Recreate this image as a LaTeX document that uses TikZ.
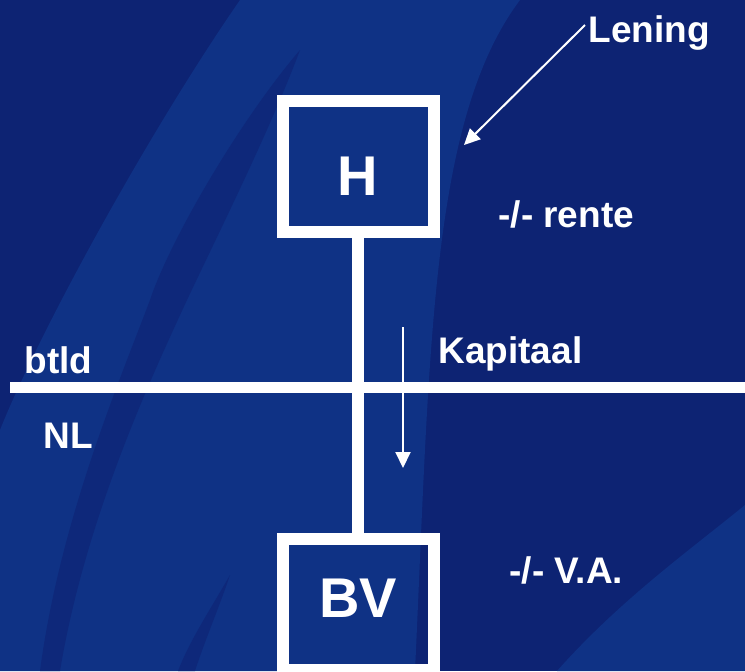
\documentclass[tikz,border=0pt]{standalone}
\usepackage{fontspec}
\setmainfont{Liberation Sans}
\usetikzlibrary{arrows.meta}
\definecolor{achtergrond}{RGB}{13,35,115}
\definecolor{zwaai}{RGB}{15,50,133}
\definecolor{streep}{RGB}{14,40,122}
\begin{document}
\begin{tikzpicture}[x=0.5pt,y=-0.5pt,
  blok/.style={draw=white, line width=6pt, minimum width=75.5pt, minimum height=65.5pt,
    inner sep=0pt, text=white, font=\fontsize{28}{30}\selectfont\bfseries},
  tekst/.style={anchor=base west, inner sep=0pt, text=white,
    font=\fontsize{18.5}{20}\selectfont\bfseries},
  pijl/.style={draw=white, line width=1pt, -{Triangle[length=8pt,width=7.5pt]}}]

\useasboundingbox (0,0) rectangle (745,671);
\clip (0,0) rectangle (745,671);

\fill[achtergrond] (0,0) rectangle (745,671);
\fill[zwaai] (240,0) .. controls (150,130) and (40,330) .. (0,430) -- (0,671) -- (415,671)
  .. controls (430,350) and (430,120) .. (520,0) -- cycle;
\fill[streep] (300,50) .. controls (240,120) and (170,240) .. (150,300)
  .. controls (120,380) and (60,520) .. (40,671) -- (60,671)
  .. controls (85,520) and (150,380) .. (187,300)
  .. controls (220,230) and (270,130) .. (300,50) -- cycle;
\fill[streep] (230,575) .. controls (210,610) and (190,640) .. (178,671) -- (195,671)
  .. controls (205,640) and (220,605) .. (230,575) -- cycle;
\fill[zwaai] (557,671) .. controls (620,600) and (690,550) .. (745,505) -- (745,671) -- cycle;

\coordinate (grenslinks) at (10,387.5);
\coordinate (grensrechts) at (750,387.5);
\draw[white, line width=5.5pt] (grenslinks) -- (grensrechts);

\node[blok, text height=28.5pt, text depth=0pt] (H) at (358,166.5) {H};
\node[blok, text height=20pt, text depth=7pt] (BV) at (358,604.5) {BV};
\draw[white, line width=6pt] (H) -- (BV);

\node[tekst] (lening) at (588,42) {Lening};
\node[tekst] (rente) at (498,227) {-/- rente};
\node[tekst] (kapitaal) at (438,363) {Kapitaal};
\node[tekst] (btld) at (24,373) {btld};
\node[tekst] (nl) at (43,448) {NL};
\node[tekst] (va) at (509,583) {-/- V.A.};

\coordinate (leningvan) at (585,25);
\coordinate (leningnaar) at (464,145);
\draw[pijl] (leningvan) -- (leningnaar);

\coordinate (kapitaalvan) at (403,327);
\coordinate (kapitaalnaar) at (403,468);
\draw[pijl] (kapitaalvan) -- (kapitaalnaar);

\end{tikzpicture}
\end{document}
